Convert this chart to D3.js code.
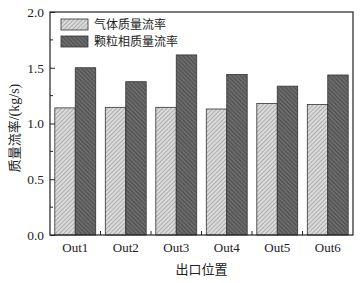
<!DOCTYPE html>
<html>
<head>
<meta charset="utf-8">
<script src="https://cdn.jsdelivr.net/npm/d3@7"></script>
<style>
  body { margin: 0; background: #fff; }
</style>
</head>
<body>
<div id="chart"></div>
<script>
const categories = ['Out1', 'Out2', 'Out3', 'Out4', 'Out5', 'Out6'];
const seriesNames = ['气体质量流率', '颗粒相质量流率'];
const gasFlow = [1.14, 1.145, 1.145, 1.13, 1.18, 1.17];
const particleFlow = [1.50, 1.375, 1.615, 1.44, 1.335, 1.435];
const yTicks = [0.0, 0.5, 1.0, 1.5, 2.0];

const width = 362, height = 283;
const margin = { top: 12, right: 9, bottom: 48, left: 50 };

const svg = d3.select('#chart').append('svg')
  .attr('width', width)
  .attr('height', height)
  .style('font-family', '"Liberation Serif", "Times New Roman", serif');

// hatch patterns
const defs = svg.append('defs');
function hatch(id, bg, line, dir) {
  const p = defs.append('pattern')
    .attr('id', id)
    .attr('patternUnits', 'userSpaceOnUse')
    .attr('width', 3).attr('height', 3)
    .attr('patternTransform', `rotate(${dir})`);
  p.append('rect').attr('width', 3).attr('height', 3).attr('fill', bg);
  p.append('line').attr('x1', 0).attr('y1', 0).attr('x2', 0).attr('y2', 3)
    .attr('stroke', line).attr('stroke-width', 1.1);
}
hatch('hGas', '#dadada', '#8a8a8a', 45);
hatch('hPart', '#6a6a6a', '#3a3a3a', -45);
const fills = ['url(#hGas)', 'url(#hPart)'];

const x0 = d3.scaleBand()
  .domain(categories)
  .range([margin.left, width - margin.right])
  .paddingInner(0.19)
  .paddingOuter(0.095);

const x1 = d3.scaleBand()
  .domain([0, 1])
  .range([0, x0.bandwidth()]);

const y = d3.scaleLinear()
  .domain([0, 2])
  .range([height - margin.bottom, margin.top]);

const data = categories.map((c, i) => ({ cat: c, vals: [gasFlow[i], particleFlow[i]] }));

// bars
const groups = svg.append('g')
  .selectAll('g')
  .data(data)
  .join('g')
  .attr('transform', d => `translate(${x0(d.cat)},0)`);

groups.selectAll('rect')
  .data(d => d.vals.map((v, k) => ({ k, v })))
  .join('rect')
  .attr('x', d => x1(d.k))
  .attr('y', d => y(d.v))
  .attr('width', x1.bandwidth())
  .attr('height', d => y(0) - y(d.v))
  .attr('fill', d => fills[d.k])
  .attr('stroke', '#333')
  .attr('stroke-width', 0.8);

// frame
const pLeft = margin.left, pRight = width - margin.right;
const pTop = margin.top, pBottom = height - margin.bottom;
svg.append('rect')
  .attr('x', pLeft).attr('y', pTop)
  .attr('width', pRight - pLeft).attr('height', pBottom - pTop)
  .attr('fill', 'none')
  .attr('stroke', '#222')
  .attr('stroke-width', 1.2);

// y axis
const yAxis = svg.append('g')
  .attr('transform', `translate(${pLeft},0)`)
  .call(d3.axisLeft(y).tickValues(yTicks).tickFormat(d3.format('.1f'))
    .tickSize(-5).tickPadding(6));
yAxis.select('.domain').remove();
yAxis.selectAll('line').attr('stroke', '#222');
yAxis.selectAll('text').attr('font-size', 13.5).attr('fill', '#222')
  .style('font-family', '"Liberation Serif", serif');

// minor y ticks
svg.append('g')
  .selectAll('line')
  .data([0.25, 0.75, 1.25, 1.75])
  .join('line')
  .attr('x1', pLeft).attr('x2', pLeft + 3)
  .attr('y1', d => y(d)).attr('y2', d => y(d))
  .attr('stroke', '#222');

// x axis
const xAxis = svg.append('g')
  .attr('transform', `translate(0,${pBottom})`)
  .call(d3.axisBottom(x0).tickSize(0).tickPadding(8));
xAxis.select('.domain').remove();
xAxis.selectAll('text').attr('font-size', 13).attr('fill', '#222')
  .style('font-family', '"Liberation Serif", serif');

// x ticks between groups
const step = x0.step();
svg.append('g')
  .selectAll('line')
  .data(categories.slice(1))
  .join('line')
  .attr('x1', d => x0(d) - x0.paddingInner() * step / 2)
  .attr('x2', d => x0(d) - x0.paddingInner() * step / 2)
  .attr('y1', pBottom).attr('y2', pBottom - 4)
  .attr('stroke', '#222');

// axis titles
svg.append('text')
  .attr('x', (pLeft + pRight) / 2)
  .attr('y', 274)
  .attr('text-anchor', 'middle')
  .attr('font-size', 13)
  .style('font-family', '"Noto Sans CJK SC", sans-serif')
  .attr('fill', '#222')
  .text('出口位置');

const yTitle = svg.append('text')
  .attr('transform', `translate(19,128) rotate(-90)`)
  .attr('text-anchor', 'middle')
  .attr('font-size', 13)
  .attr('fill', '#222');
yTitle.append('tspan')
  .style('font-family', '"Noto Sans CJK SC", sans-serif')
  .text('质量流率');
yTitle.append('tspan')
  .style('font-family', '"Liberation Serif", serif')
  .attr('font-size', 14)
  .text('/(kg/s)');

// legend
const legend = svg.append('g').attr('transform', `translate(${pLeft + 11},19)`);
seriesNames.forEach((name, i) => {
  const row = legend.append('g').attr('transform', `translate(0,${i * 17})`);
  row.append('rect')
    .attr('width', 27).attr('height', 11)
    .attr('fill', fills[i])
    .attr('stroke', '#333').attr('stroke-width', 0.8);
  row.append('text')
    .attr('x', 33).attr('y', 10)
    .attr('font-size', 12)
    .style('font-family', '"Noto Sans CJK SC", sans-serif')
    .attr('fill', '#222')
    .text(name);
});
</script>
</body>
</html>
